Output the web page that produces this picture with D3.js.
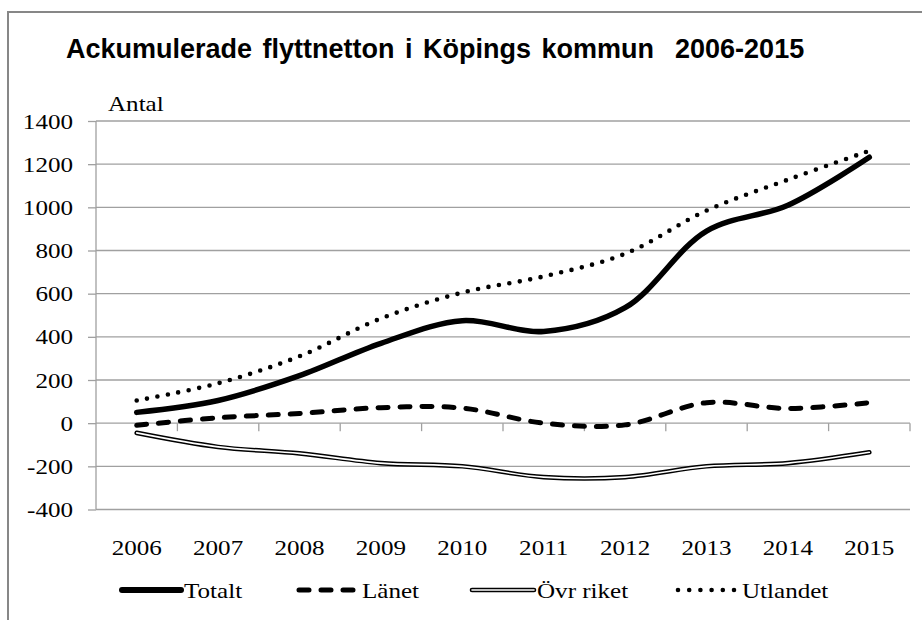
<!DOCTYPE html>
<html>
<head>
<meta charset="utf-8">
<script src="https://cdn.jsdelivr.net/npm/d3@7"></script>
<style>
  html, body { margin: 0; padding: 0; background: #fff; }
  svg { display: block; }
  text { white-space: pre; }
</style>
</head>
<body>
<svg id="chart" width="922" height="620"></svg>
<script>
const years = ["2006","2007","2008","2009","2010","2011","2012","2013","2014","2015"];
const totalt   = [50, 105, 220, 370, 475, 425, 535, 890, 1010, 1232];
const lanet    = [-10, 25, 45, 72, 70, 0, -8, 95, 68, 95];
const ovrRiket = [-45, -110, -140, -185, -200, -250, -250, -200, -185, -135];
const utlandet = [105, 185, 310, 485, 605, 680, 785, 985, 1128, 1262];
const yTicks = [-400, -200, 0, 200, 400, 600, 800, 1000, 1200, 1400];
const seriesNames = ["Totalt", "Länet", "Övr riket", "Utlandet"];

const svg = d3.select("#chart");
const SX = 1.14;
const serif = "'Liberation Serif', 'Times New Roman', serif";

function addText(x, y, str, size, anchor, family, weight, sx) {
  return svg.append("text")
    .attr("transform", `translate(${x},${y}) scale(${sx},1)`)
    .attr("text-anchor", anchor)
    .attr("font-family", family)
    .attr("font-size", size)
    .attr("font-weight", weight || "normal")
    .attr("fill", "#000")
    .text(str);
}

// outer frame
svg.append("path")
  .attr("d", "M8,640 L8,12 L940,12")
  .attr("fill", "none").attr("stroke", "#878787").attr("stroke-width", 2);

const x = d3.scaleBand().domain(years).range([96, 910]).padding(0);
const y = d3.scaleLinear().domain([-400, 1400]).range([509.5, 121]);
const cx = d => x(d) + x.bandwidth() / 2;

// gridlines
svg.append("g").selectAll("line").data(yTicks).join("line")
  .attr("x1", 96).attr("x2", 910)
  .attr("y1", d => y(d)).attr("y2", d => y(d))
  .attr("stroke", "#a0a0a0").attr("stroke-width", 1.3);

// y axis
const yAxis = d3.axisLeft(y).tickValues(yTicks).tickSize(8).tickFormat("");
const gy = svg.append("g").attr("transform", "translate(96,0)").call(yAxis);
gy.selectAll("path, line").attr("stroke", "#a0a0a0").attr("stroke-width", 1.3);
gy.select(".domain").attr("d", `M0,${y(-400)}V${y(1400)}`);

// x axis ticks at band boundaries (on zero line)
const boundaries = years.map(d => x(d) + x.bandwidth());
svg.append("g").selectAll("line").data(boundaries).join("line")
  .attr("x1", d => d).attr("x2", d => d)
  .attr("y1", y(0)).attr("y2", y(0) + 8)
  .attr("stroke", "#a0a0a0").attr("stroke-width", 1.3);

// tick labels
yTicks.forEach(t => addText(73, y(t) + 7.5, String(t), 22, "end", serif, "normal", SX));
years.forEach(yr => addText(cx(yr), 555, yr, 22, "middle", serif, "normal", SX));

// title and unit
addText(66, 58, "Ackumulerade flyttnetton i Köpings kommun  2006-2015", 27, "start",
  "'Liberation Sans', Arial, sans-serif", "bold", 1.0)
  .attr("word-spacing", 3);
addText(108, 111, "Antal", 22, "start", serif, "normal", SX);

// lines
const line = d3.line().x((d, i) => cx(years[i])).y(d => y(d)).curve(d3.curveCatmullRom.alpha(0.5));
const g = svg.append("g").attr("fill", "none");

g.append("path").attr("d", line(ovrRiket))
  .attr("stroke", "#000").attr("stroke-width", 4.6).attr("stroke-linecap", "round").attr("stroke-linejoin", "round");
g.append("path").attr("d", line(ovrRiket))
  .attr("stroke", "#fff").attr("stroke-width", 1.6).attr("stroke-linecap", "round").attr("stroke-linejoin", "round");

g.append("path").attr("d", line(lanet))
  .attr("stroke", "#000").attr("stroke-width", 5).attr("stroke-linecap", "round")
  .attr("stroke-dasharray", "10,12");

g.append("path").attr("d", line(utlandet))
  .attr("stroke", "#000").attr("stroke-width", 4.6).attr("stroke-linecap", "round")
  .attr("stroke-dasharray", "0,10.6");

g.append("path").attr("d", line(totalt))
  .attr("stroke", "#000").attr("stroke-width", 5.5).attr("stroke-linecap", "round").attr("stroke-linejoin", "round");

// legend
const ly = 590;
const leg = svg.append("g").attr("fill", "none");
// Totalt
leg.append("line").attr("x1", 122).attr("x2", 181).attr("y1", ly).attr("y2", ly)
  .attr("stroke", "#000").attr("stroke-width", 6).attr("stroke-linecap", "round");
addText(184, ly + 8, seriesNames[0], 22, "start", serif, "normal", SX);
// Länet
leg.append("line").attr("x1", 299).attr("x2", 360).attr("y1", ly).attr("y2", ly)
  .attr("stroke", "#000").attr("stroke-width", 5).attr("stroke-linecap", "round")
  .attr("stroke-dasharray", "10,12");
addText(362, ly + 8, seriesNames[1], 22, "start", serif, "normal", SX);
// Övr riket
leg.append("line").attr("x1", 472).attr("x2", 534).attr("y1", ly).attr("y2", ly)
  .attr("stroke", "#000").attr("stroke-width", 4.6).attr("stroke-linecap", "round");
leg.append("line").attr("x1", 472).attr("x2", 534).attr("y1", ly).attr("y2", ly)
  .attr("stroke", "#fff").attr("stroke-width", 1.6).attr("stroke-linecap", "round");
addText(537, ly + 8, seriesNames[2], 22, "start", serif, "normal", SX);
// Utlandet
leg.append("line").attr("x1", 678).attr("x2", 738).attr("y1", ly).attr("y2", ly)
  .attr("stroke", "#000").attr("stroke-width", 4.6).attr("stroke-linecap", "round")
  .attr("stroke-dasharray", "0,11.2");
addText(742, ly + 8, seriesNames[3], 22, "start", serif, "normal", SX);
</script>
</body>
</html>
